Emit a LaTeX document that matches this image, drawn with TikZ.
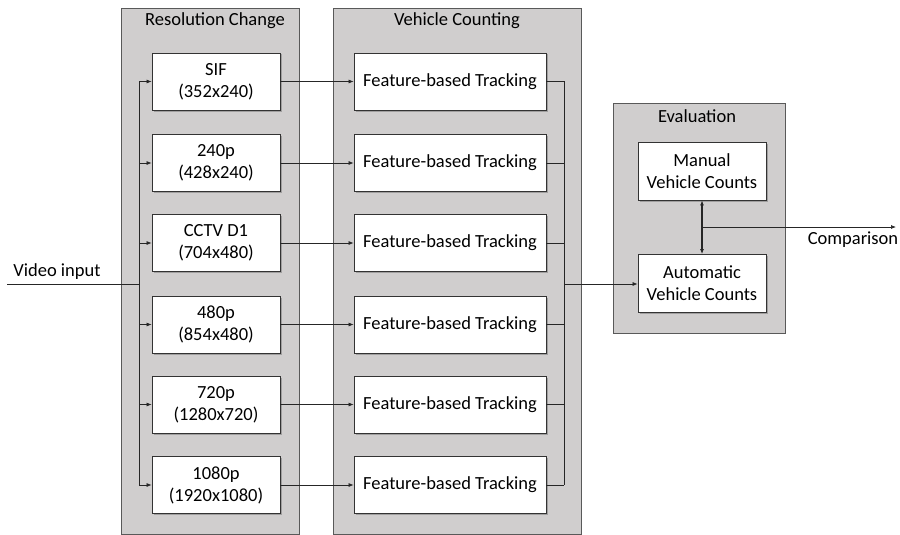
\documentclass[tikz,border=0pt]{standalone}
\usepackage{fontspec}
\setmainfont{Carlito}
\usetikzlibrary{arrows.meta,shadows}
\definecolor{panelgray}{HTML}{D0CECE}
\definecolor{paneledge}{HTML}{595959}
\tikzset{
  panel/.style={draw=paneledge, fill=panelgray, line width=0.8pt},
  box/.style={draw=black!80, fill=white, line width=0.8pt, minimum width=128pt, minimum height=57pt, align=center, inner sep=0pt,
    drop shadow={shadow xshift=1.5pt, shadow yshift=-1.5pt, fill=black!50, opacity=0.6}},
  fbox/.style={box, minimum width=192pt},
  ebox/.style={box, minimum width=128pt, minimum height=58pt},
  conn/.style={draw=black!85, line width=0.7pt},
  arr/.style={conn, -{Latex[length=5pt,width=4pt]}},
  darr/.style={conn, line width=1.2pt, {Latex[length=5pt,width=4pt]}-{Latex[length=5pt,width=4pt]}},
  lbl/.style={font=\fontsize{18.5}{22}\selectfont, align=center, inner sep=0pt},
}
\begin{document}
\begin{tikzpicture}[x=1pt,y=-1pt, every node/.style={font=\fontsize{18.5}{22}\selectfont}]
\useasboundingbox (0,0) rectangle (900,535);
% panels
\path[panel] (121,8) rectangle (299,534);
\path[panel] (333,8) rectangle (581,534);
\path[panel] (613,103) rectangle (785,333);
\node[lbl] (t1) at (215,21) {Resolution Change};
\node[lbl] (t2) at (457,21) {Vehicle Counting};
\node[lbl] (t3) at (697,116) {Evaluation};
% resolution boxes
\node[box] (r1) at (216,81.5) {SIF\\(352x240)};
\node[box] (r2) at (216,163) {240p\\(428x240)};
\node[box] (r3) at (216,243) {CCTV D1\\(704x480)};
\node[box] (r4) at (216,324.5) {480p\\(854x480)};
\node[box] (r5) at (216,404.5) {720p\\(1280x720)};
\node[box] (r6) at (216,485) {1080p\\(1920x1080)};
% tracking boxes
\foreach \i/\y in {1/81.5,2/163,3/243,4/324.5,5/404.5,6/485}{
  \node[fbox] (f\i) at (450,\y) {Feature-based Tracking};
}
% evaluation boxes
\node[ebox] (man) at (702,171) {Manual\\Vehicle Counts};
\node[ebox] (aut) at (702,283.5) {Automatic\\Vehicle Counts};
% input
\coordinate (vin) at (7,284);
\coordinate (bus) at (139,284);
\node[lbl, anchor=south] (vlabel) at (57,280) {Video input};
\draw[conn] (vin) -- (bus);
\draw[conn] (139,81.5) -- (139,485);
\foreach \i in {1,...,6}{
  \draw[arr] (139,0 |- r\i.west) -- (r\i.west);
  \draw[arr] (r\i.east) -- (f\i.west);
}
% collector
\coordinate (col) at (564,284);
\foreach \i in {1,...,6}{
  \draw[conn] (f\i.east) -- (564,0 |- f\i.east);
}
\draw[conn] (564,81.5) -- (564,485);
\draw[arr] (col) -- (aut.west |- col);
% comparison
\draw[darr] (man.south) -- (aut.north);
\coordinate (cmpstart) at (702,227);
\coordinate (cmpend) at (896,227);
\draw[arr] (cmpstart) -- (cmpend);
\node[lbl] (cmp) at (853,240) {Comparison};
\end{tikzpicture}
\end{document}
